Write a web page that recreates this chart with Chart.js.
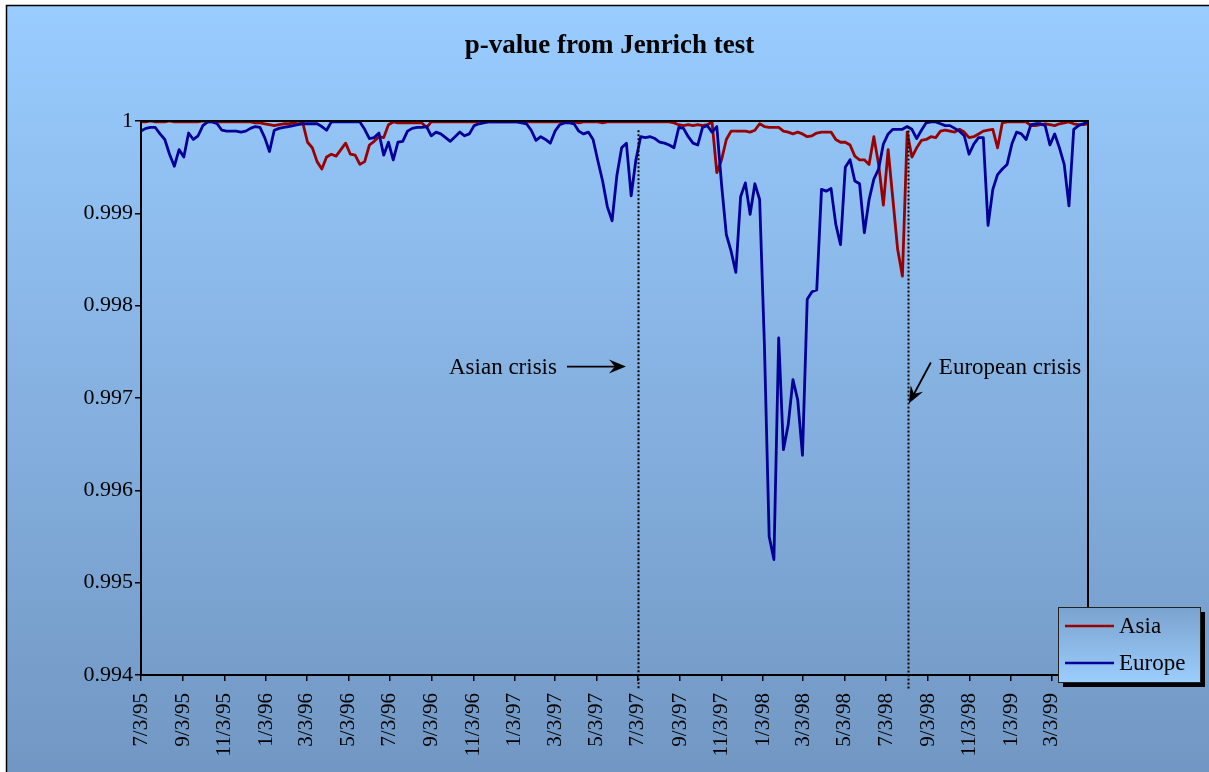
<!DOCTYPE html>
<html>
<head>
<meta charset="utf-8">
<title>p-value from Jenrich test</title>
<script src="https://cdn.jsdelivr.net/npm/chart.js@4.4.1/dist/chart.umd.min.js"></script>
<style>
  html, body { margin: 0; padding: 0; background: #fff; }
  #wrap { width: 1209px; height: 772px; position: relative; }
</style>
</head>
<body>
<div id="wrap"><canvas id="chart"></canvas></div>
<script>
// ---- data: weekly observations starting on the first date ----
const startDate = '1995-07-03';

const seriesNames = ['Asia', 'Europe'];

const asia = [
  0.99999, 0.99999, 1.00000, 0.99999, 0.99999, 0.99999, 1.00000, 0.99999, 0.99999, 0.99999,
  0.99999, 0.99999, 0.99999, 1.00000, 0.99999, 0.99999, 0.99999, 0.99999, 0.99999, 0.99999,
  0.99999, 0.99999, 0.99999, 0.99999, 0.99998, 0.99998, 0.99997, 0.99996, 0.99995, 0.99996,
  0.99997, 0.99997, 0.99998, 0.99997, 0.99998, 0.99977, 0.99971, 0.99956, 0.99948, 0.99961,
  0.99964, 0.99962, 0.99969, 0.99976, 0.99964, 0.99963, 0.99953, 0.99956, 0.99974, 0.99978,
  0.99983, 0.99982, 0.99996, 0.99999, 0.99998, 0.99998, 0.99998, 0.99998, 0.99998, 0.99998,
  0.99993, 0.99999, 0.99999, 0.99999, 0.99999, 0.99999, 0.99999, 0.99999, 0.99999, 0.99999,
  0.99999, 0.99999, 0.99999, 0.99999, 0.99999, 0.99999, 0.99999, 0.99999, 0.99999, 0.99999,
  0.99999, 0.99999, 0.99999, 0.99999, 0.99999, 0.99999, 0.99999, 0.99999, 0.99999, 0.99999,
  0.99999, 0.99999, 0.99998, 0.99999, 0.99999, 0.99999, 0.99999, 0.99998, 0.99999, 0.99999,
  0.99999, 0.99999, 0.99999, 0.99999, 0.99999, 0.99999, 0.99999, 0.99999, 0.99999, 0.99999,
  0.99999, 0.99999, 0.99998, 0.99996, 0.99995, 0.99996, 0.99995, 0.99996, 0.99995, 0.99996,
  0.99999, 0.99944, 0.99958, 0.99980, 0.99989, 0.99989, 0.99989, 0.99989, 0.99988, 0.99990,
  0.99997, 0.99994, 0.99993, 0.99993, 0.99993, 0.99989, 0.99988, 0.99986, 0.99988, 0.99986,
  0.99983, 0.99984, 0.99987, 0.99988, 0.99988, 0.99988, 0.99980, 0.99977, 0.99977, 0.99974,
  0.99962, 0.99958, 0.99958, 0.99953, 0.99983, 0.99953, 0.99909, 0.99969, 0.99915, 0.99861,
  0.99832, 0.99988, 0.99961, 0.99971, 0.99979, 0.99980, 0.99983, 0.99982, 0.99989, 0.99990,
  0.99989, 0.99988, 0.99991, 0.99988, 0.99982, 0.99983, 0.99986, 0.99989, 0.99990, 0.99991,
  0.99971, 0.99998, 0.99999, 0.99999, 0.99999, 0.99999, 0.99999, 0.99995, 0.99995, 0.99996,
  0.99997, 0.99996, 0.99995, 0.99997, 0.99998, 0.99999, 0.99997, 0.99996, 0.99996, 0.99997
];

const europe = [
  0.99989, 0.99992, 0.99993, 0.99993, 0.99986, 0.99980, 0.99964, 0.99951, 0.99969, 0.99961,
  0.99987, 0.99980, 0.99984, 0.99995, 0.99999, 0.99999, 0.99997, 0.99990, 0.99989, 0.99989,
  0.99989, 0.99988, 0.99989, 0.99992, 0.99994, 0.99993, 0.99982, 0.99967, 0.99990, 0.99992,
  0.99993, 0.99994, 0.99995, 0.99996, 0.99997, 0.99997, 0.99997, 0.99997, 0.99994, 0.99990,
  0.99999, 0.99999, 0.99999, 0.99999, 0.99999, 0.99999, 0.99999, 0.99991, 0.99981, 0.99982,
  0.99987, 0.99963, 0.99977, 0.99958, 0.99977, 0.99978, 0.99989, 0.99992, 0.99993, 0.99993,
  0.99994, 0.99984, 0.99988, 0.99986, 0.99982, 0.99978, 0.99983, 0.99988, 0.99984, 0.99986,
  0.99995, 0.99997, 0.99998, 0.99999, 0.99999, 0.99999, 0.99999, 0.99999, 0.99999, 0.99999,
  0.99998, 0.99997, 0.99990, 0.99979, 0.99983, 0.99980, 0.99976, 0.99989, 0.99996, 0.99998,
  0.99998, 0.99997, 0.99989, 0.99986, 0.99988, 0.99980, 0.99957, 0.99935, 0.99907, 0.99892,
  0.99941, 0.99971, 0.99976, 0.99919, 0.99958, 0.99983, 0.99982, 0.99983, 0.99981, 0.99977,
  0.99976, 0.99974, 0.99971, 0.99993, 0.99992, 0.99983, 0.99976, 0.99974, 0.99993, 0.99995,
  0.99988, 0.99994, 0.99931, 0.99877, 0.99859, 0.99836, 0.99918, 0.99933, 0.99899, 0.99932,
  0.99915, 0.99758, 0.99550, 0.99525, 0.99765, 0.99644, 0.99671, 0.99720, 0.99698, 0.99638,
  0.99807, 0.99815, 0.99817, 0.99926, 0.99924, 0.99927, 0.99888, 0.99866, 0.99950, 0.99958,
  0.99935, 0.99932, 0.99879, 0.99915, 0.99937, 0.99948, 0.99975, 0.99986, 0.99991, 0.99991,
  0.99991, 0.99994, 0.99991, 0.99981, 0.99990, 0.99998, 0.99999, 0.99999, 0.99997, 0.99995,
  0.99995, 0.99992, 0.99989, 0.99984, 0.99964, 0.99975, 0.99982, 0.99982, 0.99887, 0.99926,
  0.99942, 0.99948, 0.99953, 0.99975, 0.99988, 0.99986, 0.99980, 0.99996, 0.99997, 0.99997,
  0.99995, 0.99974, 0.99986, 0.99971, 0.99953, 0.99908, 0.99991, 0.99995, 0.99997, 0.99999
];

const tickLabels = [
  '7/3/95', '9/3/95', '11/3/95', '1/3/96', '3/3/96', '5/3/96', '7/3/96', '9/3/96',
  '11/3/96', '1/3/97', '3/3/97', '5/3/97', '7/3/97', '9/3/97', '11/3/97', '1/3/98',
  '3/3/98', '5/3/98', '7/3/98', '9/3/98', '11/3/98', '1/3/99', '3/3/99'
];

const yTicks = [0.994, 0.995, 0.996, 0.997, 0.998, 0.999, 1];

const crisisNames = ['Asian crisis', 'European crisis'];
const crisisDates = ['1997-07-03', '1998-08-04'];

// ---- helpers ----
const DAY_MS = 86400000;
const t0 = Date.parse(startDate + 'T00:00:00Z');
const dayOfIso = iso => Math.round((Date.parse(iso + 'T00:00:00Z') - t0) / DAY_MS);
const dayOfLabel = s => {
  const [m, d, y] = s.split('/').map(Number);
  return Math.round((Date.UTC(1900 + y, m - 1, d) - t0) / DAY_MS);
};
const tickDays = tickLabels.map(dayOfLabel);
const weekly = arr => arr.map((v, i) => ({ x: 7 * i, y: v }));

const SERIF = '"Liberation Serif", "Times New Roman", serif';
const colors = ['#990000', '#000099'];

// ---- background of the whole chart ----
const backdrop = {
  id: 'backdrop',
  beforeDraw(chart) {
    const { ctx, width, height } = chart;
    ctx.save();
    ctx.fillStyle = '#ffffff';
    ctx.fillRect(0, 0, width, height);
    const g = ctx.createLinearGradient(0, 5, 0, height);
    g.addColorStop(0, '#99ccff');
    g.addColorStop(1, '#7297c3');
    ctx.fillStyle = g;
    ctx.fillRect(6, 5, width - 6, height - 5);
    ctx.strokeStyle = '#000';
    ctx.lineWidth = 1.5;
    ctx.beginPath();
    ctx.moveTo(6.5, height);
    ctx.lineTo(6.5, 5.5);
    ctx.lineTo(width, 5.5);
    ctx.stroke();
    ctx.restore();
  }
};

// ---- arrow with a notched head ----
function arrow(ctx, x1, y1, x2, y2) {
  const a = Math.atan2(y2 - y1, x2 - x1);
  const c = Math.cos(a), s = Math.sin(a);
  ctx.beginPath();
  ctx.moveTo(x1, y1);
  ctx.lineTo(x2 - 10 * c, y2 - 10 * s);
  ctx.stroke();
  const L = 17, W = 7, N = 11;
  ctx.beginPath();
  ctx.moveTo(x2, y2);
  ctx.lineTo(x2 - L * c + W * s, y2 - L * s - W * c);
  ctx.lineTo(x2 - N * c, y2 - N * s);
  ctx.lineTo(x2 - L * c - W * s, y2 - L * s + W * c);
  ctx.closePath();
  ctx.fill();
}

// ---- plot frame, crisis markers and their notes ----
const overlay = {
  id: 'overlay',
  afterDatasetsDraw(chart) {
    const { ctx, chartArea: ca, scales } = chart;
    const xs = scales.x, ys = scales.y;
    ctx.save();
    // frame of the plot area
    ctx.strokeStyle = '#000';
    ctx.lineWidth = 2;
    ctx.strokeRect(ca.left, ca.top, ca.right - ca.left, ca.bottom - ca.top);

    // dotted crisis markers
    const tops = [0.99990, 0.99994];
    const xPix = crisisDates.map(d => xs.getPixelForValue(dayOfIso(d)));
    ctx.setLineDash([2, 2]);
    ctx.lineWidth = 2;
    xPix.forEach((px, i) => {
      ctx.beginPath();
      ctx.moveTo(Math.round(px) + 0.5, ys.getPixelForValue(tops[i]));
      ctx.lineTo(Math.round(px) + 0.5, ca.bottom + 15);
      ctx.stroke();
    });
    ctx.setLineDash([]);

    // notes
    const ty = ys.getPixelForValue(0.99733);
    ctx.fillStyle = '#000';
    ctx.strokeStyle = '#000';
    ctx.lineWidth = 1.8;
    ctx.font = '23px ' + SERIF;
    ctx.textBaseline = 'middle';

    ctx.textAlign = 'right';
    ctx.fillText(crisisNames[0], xPix[0] - 81, ty);
    arrow(ctx, xPix[0] - 71, ty - 1, xPix[0] - 12, ty - 1);

    ctx.textAlign = 'left';
    ctx.fillText(crisisNames[1], xPix[1] + 31, ty);
    arrow(ctx, xPix[1] + 23, ty - 5, xPix[1] + 1, ty + 36);
    ctx.restore();
  },
  afterDraw(chart) {
    const { ctx, width } = chart;
    ctx.save();
    // title
    ctx.fillStyle = '#000';
    ctx.font = 'bold 27px ' + SERIF;
    ctx.textAlign = 'center';
    ctx.textBaseline = 'middle';
    ctx.fillText('p-value from Jenrich test', width / 2 + 5, 46);

    // legend box with drop shadow
    const x = 1058, y = 607, w = 142, h = 75;
    ctx.fillStyle = '#000';
    ctx.fillRect(x + 5, y + 5, w, h);
    const g = ctx.createLinearGradient(0, y, 0, y + h);
    g.addColorStop(0, '#7ba2ce');
    g.addColorStop(1, '#9bcdfd');
    ctx.fillStyle = g;
    ctx.fillRect(x, y, w, h);
    ctx.strokeStyle = '#222';
    ctx.lineWidth = 1;
    ctx.strokeRect(x + 0.5, y + 0.5, w, h);
    ctx.font = '23px ' + SERIF;
    ctx.textAlign = 'left';
    chart.data.datasets.forEach((ds, i) => {
      const ly = y + 19 + i * 37;
      ctx.strokeStyle = ds.borderColor;
      ctx.lineWidth = 2.5;
      ctx.beginPath();
      ctx.moveTo(x + 7, ly);
      ctx.lineTo(x + 56, ly);
      ctx.stroke();
      ctx.fillStyle = '#000';
      ctx.fillText(ds.label, x + 61, ly + 1);
    });
    ctx.restore();
  }
};

new Chart(document.getElementById('chart'), {
  type: 'line',
  data: {
    datasets: [
      { label: seriesNames[0], data: weekly(asia), borderColor: colors[0], order: 1 },
      { label: seriesNames[1], data: weekly(europe), borderColor: colors[1], order: 0 }
    ]
  },
  options: {
    responsive: true,
    maintainAspectRatio: false,
    animation: false,
    layout: { padding: { top: 121, right: 121, left: 0, bottom: 0 } },
    elements: {
      line: { borderWidth: 2.8, tension: 0, borderJoinStyle: 'round', fill: false },
      point: { radius: 0, hoverRadius: 0 }
    },
    plugins: {
      legend: { display: false },
      title: { display: false },
      tooltip: { enabled: false }
    },
    scales: {
      x: {
        type: 'linear',
        min: 0,
        max: 7 * (asia.length - 1),
        afterBuildTicks: s => { s.ticks = tickDays.map(v => ({ value: v })); },
        afterFit: s => { s.height = 97; },
        border: { display: false },
        grid: { display: true, drawOnChartArea: false, drawTicks: true, tickLength: 6, color: '#000', lineWidth: 1.5 },
        ticks: {
          autoSkip: false, minRotation: 90, maxRotation: 90, padding: 12,
          color: '#000', font: { family: SERIF, size: 21 },
          callback: (v, i) => tickLabels[i]
        }
      },
      y: {
        min: 0.994,
        max: 1,
        afterBuildTicks: s => { s.ticks = yTicks.map(v => ({ value: v })); },
        afterFit: s => { s.width = 141; },
        border: { display: false },
        grid: { display: true, drawOnChartArea: false, drawTicks: true, tickLength: 6, color: '#000', lineWidth: 1.5 },
        ticks: {
          padding: 2, color: '#000', font: { family: SERIF, size: 22 },
          callback: (v, i) => String(yTicks[i])
        }
      }
    }
  },
  plugins: [backdrop, overlay]
});
</script>
</body>
</html>
